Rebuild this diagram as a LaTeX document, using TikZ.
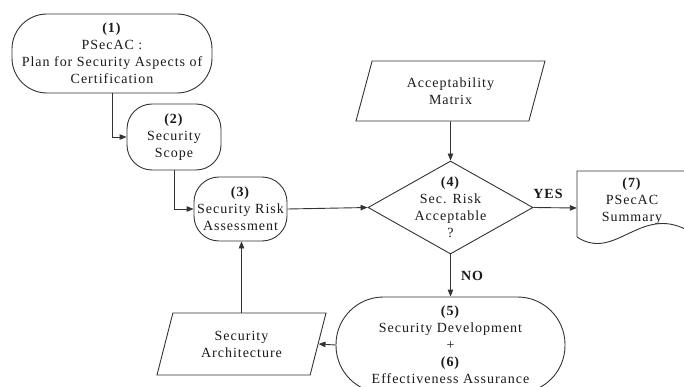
\documentclass[tikz,border=0pt]{standalone}
\usepackage{fontspec}
\setmainfont{Liberation Serif}[LetterSpace=7]
\usetikzlibrary{arrows.meta,shapes.geometric}
\begin{document}
\begin{tikzpicture}[x=1pt,y=-1pt,
  every node/.style={font=\fontsize{14}{17}\selectfont, align=center, inner sep=0pt, text=black!90},
  ln/.style={draw=black!80, line width=0.9pt},
  arr/.style={ln, -{Triangle[length=7pt,width=5.5pt]}},
  rbox/.style={ln, rectangle, rounded corners=#1},
  para/.style={ln, trapezium, trapezium left angle=59, trapezium right angle=121, trapezium stretches body},
  lbl/.style={font=\fontsize{14}{17}\selectfont\bfseries}
]
\useasboundingbox (0,0) rectangle (684,387);
\clip (0,0) rectangle (684,387);

\node[rbox=35pt, minimum width=200pt, minimum height=79pt] (n1) at (112,53.5)
  {\textbf{(1)}\\PSecAC :\\Plan for Security Aspects of\\Certification};
\node[rbox=25pt, minimum width=94pt, minimum height=66pt] (n2) at (174,137)
  {\textbf{(2)}\\Security\\Scope};
\node[rbox=25pt, minimum width=93pt, minimum height=64pt] (n3) at (240.5,209)
  {\textbf{(3)}\\Security Risk\\Assessment};
\node[ln, diamond, minimum width=165pt, minimum height=93pt] (n4) at (450.5,207.5) {};
\node (t4) at (n4.center) {\textbf{(4)}\\Sec. Risk\\Acceptable\\?};
\node[para, minimum width=189pt, minimum height=60pt] (am) at (450.5,91)
  {Acceptability\\Matrix};
\node[minimum width=110pt, minimum height=74pt] (n7) at (632,208) {};
\draw[ln] (577,237) -- (577,171) -- (687,171) -- (687,230)
  .. controls (640,205) and (615,262) .. (577,237);
\node (t7) at (632,201) {\textbf{(7)}\\PSecAC\\Summary};
\node[rbox=47.5pt, minimum width=229pt, minimum height=96pt] (n5) at (450.5,345)
  {\textbf{(5)}\\Security Development\\+\\\textbf{(6)}\\Effectiveness Assurance};
\node[para, minimum width=169pt, minimum height=62pt] (sa) at (241.5,344)
  {Security\\Architecture};

\draw[arr] (n1.south) |- (n2.west);
\draw[arr] (n2.south) |- (n3.west);
\draw[arr] (n3.east) -- (n4.west);
\draw[arr] (am.south) -- (n4.north);
\draw[arr] (n4.east) -- (n7.west);
\draw[arr] (n4.south) -- (n5.north);
\draw[arr] (n5.west) -- (sa.east);
\draw[arr] (sa.north) -- (sa.north |- n3.south);

\node[lbl] (yes) at (548,194) {YES};
\node[lbl] (no) at (472,276) {NO};
\end{tikzpicture}
\end{document}
